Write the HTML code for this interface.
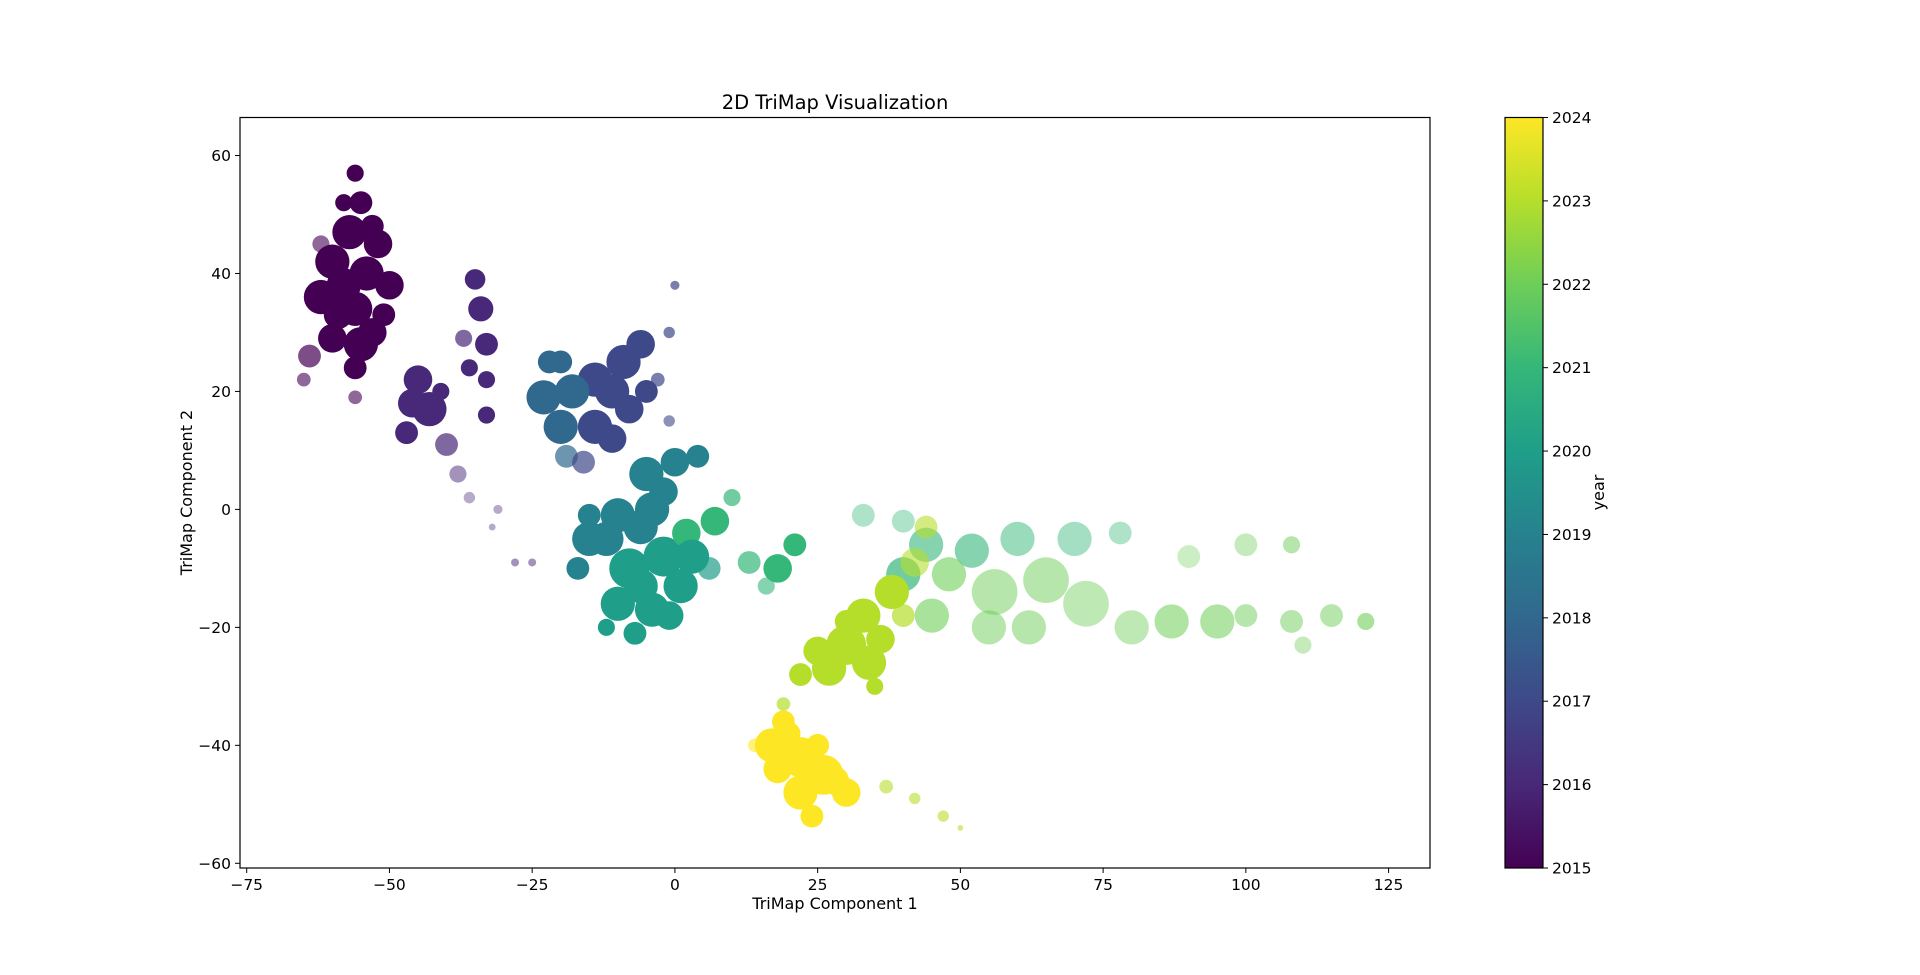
<!DOCTYPE html>
<html><head><meta charset="utf-8"><style>
html,body{margin:0;padding:0;background:#fff;}
svg{display:block;font-family:"DejaVu Sans","Liberation Sans",sans-serif;}
</style></head><body>
<svg id="chart" width="1920" height="975" viewBox="0 0 1920 975">
<defs>
<linearGradient id="vir" x1="0" y1="1" x2="0" y2="0">
<stop offset="0" stop-color="#440154"/><stop offset="0.1111" stop-color="#482878"/><stop offset="0.2222" stop-color="#3e4989"/><stop offset="0.3333" stop-color="#31688e"/><stop offset="0.4444" stop-color="#26828e"/><stop offset="0.5556" stop-color="#1f9e89"/><stop offset="0.6667" stop-color="#35b779"/><stop offset="0.7778" stop-color="#6ece58"/><stop offset="0.8889" stop-color="#b5de2b"/><stop offset="1" stop-color="#fde725"/>
</linearGradient>
<clipPath id="plotclip"><rect x="240" y="117.5" width="1190" height="750.5"/></clipPath>
</defs>
<text x="835" y="109" text-anchor="middle" font-size="19.5">2D TriMap Visualization</text>
<g id="points" clip-path="url(#plotclip)"></g>
<rect x="240" y="117.5" width="1190" height="750.5" fill="none" stroke="#000" stroke-width="1.2"/>
<g id="xticks"></g>
<g id="yticks"></g>
<text x="835" y="909" text-anchor="middle" font-size="16">TriMap Component 1</text>
<text transform="translate(192,492.5) rotate(-90)" text-anchor="middle" font-size="16">TriMap Component 2</text>
<rect x="1505" y="117.5" width="38" height="750.5" fill="url(#vir)" stroke="#000" stroke-width="1.2"/>
<g id="cticks"></g>
<text transform="translate(1604,492.5) rotate(-90)" text-anchor="middle" font-size="16">year</text>
</svg>
<script>
const xTicks=[-75,-50,-25,0,25,50,75,100,125];
const yTicks=[-60,-40,-20,0,20,40,60];
const cTicks=[2015,2016,2017,2018,2019,2020,2021,2022,2023,2024];
// anchor points: x, y, year, spread (data units), density
const px=[-56,-55,-57,-52,-60,-54,-50,-62,-56,-51,-60,-55,-64,-56,-65,-56,-62,-58,-53,-59,-53,-58,
-35,-34,-33,-33,-33,-37,-45,-43,-47,-40,-38,-36,-31,-32,-28,-25,-36,-46,-41,
-22,-23,-20,-19,-14,-9,-6,-14,-8,-16,-3,-1,0,-1,-18,-11,-20,-11,-5,
-5,0,4,-10,-15,-4,-8,-2,-10,-4,-7,-12,1,2,7,10,6,-17,-12,-6,3,-1,-6,-15,-2,
13,18,21,16,
33,40,44,52,60,70,78,40,48,56,65,72,62,55,80,87,95,100,108,115,121,110,90,100,108,
44,42,38,33,30,34,27,22,35,19,45,25,36,30,40,
19,17,22,26,22,30,24,14,37,42,47,50,18,20,28,25];
const py=[57,52,47,45,42,40,38,36,34,33,29,28,26,24,22,19,45,38,30,33,48,52,
39,34,28,22,16,29,22,17,13,11,6,2,0,-3,-9,-9,24,18,20,
25,19,14,9,22,25,28,14,17,8,22,30,38,15,20,20,25,12,20,
6,8,9,-1,-5,0,-10,-8,-16,-17,-21,-20,-13,-4,-2,2,-10,-10,-5,-3,-8,-18,-13,-1,3,
-9,-10,-6,-13,
-1,-2,-6,-7,-5,-5,-4,-11,-11,-14,-12,-16,-20,-20,-20,-19,-19,-18,-19,-18,-19,-23,-8,-6,-6,
-3,-9,-14,-18,-23,-26,-27,-28,-30,-33,-18,-24,-22,-19,-18,
-36,-40,-42,-45,-48,-48,-52,-40,-47,-49,-52,-54,-44,-38,-46,-40];
const pyear=[2015,2015,2015,2015,2015,2015,2015,2015,2015,2015,2015,2015,2015,2015,2015,2015,2015,2015,2015,2015,2015,2015,
2016,2016,2016,2016,2016,2016,2016,2016,2016,2016,2016,2016,2016,2016,2016,2016,2016,2016,2016,
2018,2018,2018,2018,2017,2017,2017,2017,2017,2017,2017,2017,2017,2017,2018,2017,2018,2017,2017,
2019,2019,2019,2019,2019,2019,2020,2020,2020,2020,2020,2020,2020,2021,2021,2021,2020,2019,2019,2019,2020,2020,2020,2019,2019,
2021,2021,2021,2021,
2021,2021,2021,2021,2021,2021,2021,2021,2022,2022,2022,2022,2022,2022,2022,2022,2022,2022,2022,2022,2022,2022,2022,2022,2022,
2023,2023,2023,2023,2023,2023,2023,2023,2023,2023,2022,2023,2023,2023,2023,
2024,2024,2024,2024,2024,2024,2024,2024,2023,2023,2023,2023,2024,2024,2024,2024];
const pspread=[1.5,2,3,2.5,3,3,2.5,3,3,2,2.5,3,2,2,1.2,1.2,1.5,3,2.5,2.5,2,1.5,
1.8,2.2,2,1.5,1.5,1.5,2.5,3,2,2,1.5,1,0.8,0.6,0.7,0.7,1.5,2.5,1.5,
2,3,3,2,3,3,2.5,3,2.5,2,1.2,1,0.8,1,3,3,2,2.5,2,
3,2.5,2,3,3,3,3.5,3.5,3,3,2,1.5,3,2.5,2.5,1.5,2,2,3,3,3,2.5,3,2,2.5,
2,2.5,2,1.5,
2,2,3,3,3,3,2,3,3,4,4,4,3,3,3,3,3,2,2,2,1.5,1.5,2,2,1.5,
2,2.5,3,3,3.5,3,3,2,1.5,1.2,3,2.5,2.5,2,2,
2,3,3.5,3.5,3,2.5,2,1.2,1.2,1,1,0.5,2.5,2,2.5,2];
const pdens=[.9,.9,.9,.8,.9,1,1,.9,1,1,.9,1,.7,.9,.6,.6,.6,.9,.9,.9,.8,.8,
.9,.95,.95,.95,.95,.7,.85,.8,.8,.7,.5,.4,.4,.4,.5,.5,.8,.8,.8,
.85,.9,.9,.7,.9,.9,.9,.9,.9,.7,.7,.7,.7,.6,.9,.9,.85,.9,.8,
.9,.9,.8,.9,.9,.9,.95,.95,.95,.95,.9,.8,.9,.8,.85,.7,.7,.8,.9,.9,.9,.9,.9,.8,.9,
.7,.8,.8,.6,
.4,.4,.6,.6,.5,.45,.4,.7,.6,.5,.5,.45,.5,.5,.45,.55,.55,.5,.5,.5,.6,.4,.35,.4,.5,
.6,.6,.8,.8,.9,.9,.9,.8,.8,.7,.6,.9,.8,.8,.7,
.95,.95,1,1,1,1,.95,.6,.6,.6,.6,.6,1,.95,1,1];

const NS='http://www.w3.org/2000/svg';
const X0=-75,X1=125,PX0=246.7,PX1=1388.6;
const Y0=-60,Y1=60,PY0=863.3,PY1=155.5;
function sx(v){return PX0+(v-X0)*(PX1-PX0)/(X1-X0);}
function sy(v){return PY0+(v-Y0)*(PY1-PY0)/(Y1-Y0);}
const kx=(PX1-PX0)/(X1-X0);
function cy(v){return 868+(v-2015)*(117.5-868)/9;}
const vs=['#440154','#482878','#3e4989','#31688e','#26828e','#1f9e89','#35b779','#6ece58','#b5de2b','#fde725'].map(h=>[parseInt(h.slice(1,3),16),parseInt(h.slice(3,5),16),parseInt(h.slice(5,7),16)]);
function vir(t){t=Math.max(0,Math.min(1,t))*9;const i=Math.min(8,Math.floor(t)),f=t-i;const a=vs[i],b=vs[i+1];return 'rgb('+a.map((c,j)=>Math.round(c+(b[j]-c)*f)).join(',')+')';}

const gp=document.getElementById('points');
for(let i=0;i<px.length;i++){
  const c=document.createElementNS(NS,'circle');
  c.setAttribute('cx',sx(px[i]));c.setAttribute('cy',sy(py[i]));
  c.setAttribute('r',pspread[i]*kx);
  c.setAttribute('fill',vir((pyear[i]-2015)/9));
  c.setAttribute('fill-opacity',pdens[i]>=0.8?1:pdens[i]);
  
  
  gp.appendChild(c);
}
function line(g,x1,y1,x2,y2){const l=document.createElementNS(NS,'line');l.setAttribute('x1',x1);l.setAttribute('y1',y1);l.setAttribute('x2',x2);l.setAttribute('y2',y2);l.setAttribute('stroke','#000');l.setAttribute('stroke-width','1');g.appendChild(l);return l;}
function txt(g,x,y,s,anchor){const t=document.createElementNS(NS,'text');t.setAttribute('x',x);t.setAttribute('y',y);t.setAttribute('font-size','15.5');t.setAttribute('text-anchor',anchor);t.textContent=s;g.appendChild(t);return t;}
const gx=document.getElementById('xticks');
xTicks.forEach(v=>{const x=sx(v);
  const l=line(gx,x,868,x,873);
  
  
  const t=txt(gx,x,890,String(v).replace('-','\u2212'),'middle');
  
  
});
const gy=document.getElementById('yticks');
yTicks.forEach(v=>{const y=sy(v);
  const l=line(gy,235,y,240,y);
  
  
  const t=txt(gy,231,y+5.5,String(v).replace('-','\u2212'),'end');
  
  
});
const gc=document.getElementById('cticks');
cTicks.forEach(v=>{const y=cy(v);
  const l=line(gc,1543,y,1548,y);
  
  
  const t=txt(gc,1552,y+5.5,String(v),'start');
  
  
});
</script>
</body></html>
